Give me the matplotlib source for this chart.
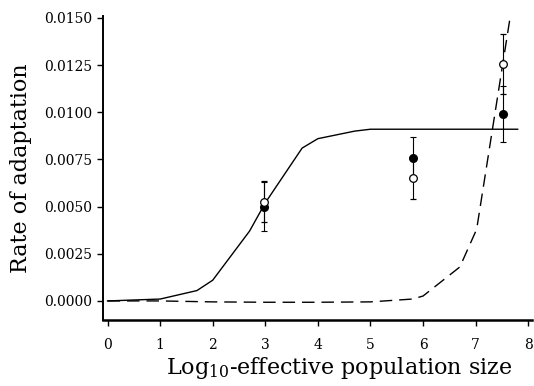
import matplotlib
matplotlib.use("Agg")
import matplotlib.pyplot as plt

plt.rcParams["font.family"] = "DejaVu Serif"
plt.rcParams["mathtext.fontset"] = "dejavuserif"

# model curves
solid_x = [0, 1, 1.7, 2, 2.7, 3, 3.7, 4, 4.7, 5, 6, 7, 7.8]
solid_y = [0, 0.0001, 0.00055, 0.0011, 0.0037, 0.0052, 0.0081, 0.0086, 0.0090, 0.0091, 0.0091, 0.0091, 0.0091]
dashed_x = [0, 1, 2, 3, 4, 5, 5.8, 6, 6.7, 7.02, 7.7]
dashed_y = [0, 0, -0.00005, -0.00007, -0.00007, -0.00005, 0.0001, 0.00026, 0.0018, 0.0038, 0.0158]

# observed points
pts_x = [2.98, 5.8, 7.53]
filled_y = [0.0050, 0.0076, 0.0099]
filled_err = [0.0013, 0.0011, 0.0015]
open_y = [0.00526, 0.0065, 0.01255]
open_err = [0.0011, 0.0011, 0.0016]

fig = plt.figure(figsize=(5.34, 3.86), dpi=100)
ax = fig.add_axes([0.193, 0.171, 0.803, 0.788])

ax.plot(solid_x, solid_y, color="black", lw=1)
ax.plot(dashed_x, dashed_y, color="black", lw=1, dashes=(9, 5))

ax.errorbar(pts_x, filled_y, yerr=filled_err, fmt="o", color="black", ms=5.5,
            mfc="black", mec="black", elinewidth=0.8, capsize=2.5, capthick=0.8, zorder=3)
ax.errorbar(pts_x, open_y, yerr=open_err, fmt="o", color="black", ms=5.5,
            mfc="white", mec="black", mew=0.9, elinewidth=0.8, capsize=2.5, capthick=0.8, zorder=4)

ax.set_xlim(-0.086, 8.07)
ax.set_ylim(-0.00101, 0.01511)
ax.set_xticks(range(9))
ax.set_yticks([0, 0.0025, 0.005, 0.0075, 0.01, 0.0125, 0.015])
ax.set_yticklabels(["0.0000", "0.0025", "0.0050", "0.0075", "0.0100", "0.0125", "0.0150"])

ax.spines["top"].set_visible(False)
ax.spines["right"].set_visible(False)
ax.spines["left"].set_linewidth(1.4)
ax.spines["bottom"].set_linewidth(1.8)
ax.tick_params(axis="both", labelsize=10, length=4, width=1, direction="out")
ax.tick_params(axis="x", pad=9)
ax.tick_params(axis="y", pad=4)

ax.set_xlabel("Log$_{10}$-effective population size", fontsize=16)
ax.set_ylabel("Rate of adaptation", fontsize=16)
ax.xaxis.set_label_coords(0.55, -0.115)
ax.yaxis.set_label_coords(-0.165, 0.5)

fig.savefig("out.png", dpi=100)
